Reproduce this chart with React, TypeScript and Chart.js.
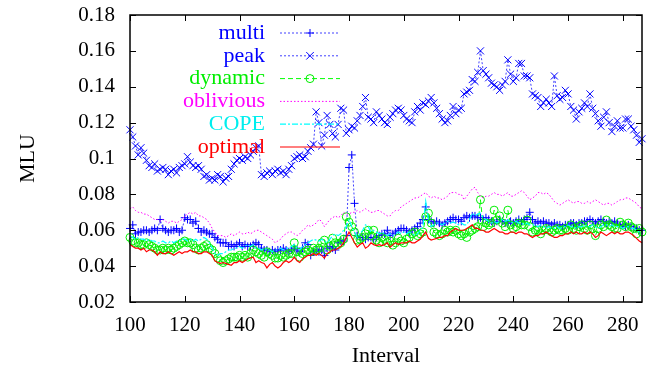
import React, { useEffect, useRef } from 'react';
import { Chart, registerables } from 'chart.js';

Chart.register(...registerables);

const FIRST_INTERVAL = 100;
const X_MIN = 100;
const X_MAX = 287;
const X_TICKS = [100, 120, 140, 160, 180, 200, 220, 240, 260, 280];
const Y_TICKS = [0.02, 0.04, 0.06, 0.08, 0.1, 0.12, 0.14, 0.16, 0.18];
const X_TITLE = 'Interval';
const Y_TITLE = 'MLU';

const MULTI = [
  0.061,0.063,0.058,0.059,0.059,0.060,0.060,0.059,0.060,0.061,
  0.060,0.066,0.061,0.060,0.059,0.060,0.060,0.061,0.059,0.060,
  0.067,0.066,0.066,0.064,0.065,0.061,0.059,0.060,0.059,0.058,
  0.058,0.056,0.055,0.053,0.053,0.053,0.051,0.052,0.051,0.052,
  0.053,0.051,0.052,0.051,0.051,0.052,0.053,0.052,0.050,0.049,
  0.049,0.048,0.049,0.048,0.049,0.049,0.050,0.049,0.048,0.049,
  0.050,0.049,0.048,0.050,0.053,0.052,0.046,0.048,0.049,0.048,
  0.049,0.046,0.050,0.051,0.050,0.049,0.053,0.054,0.054,0.057,
  0.095,0.102,0.075,0.057,0.056,0.056,0.055,0.056,0.056,0.055,
  0.056,0.057,0.058,0.058,0.060,0.057,0.058,0.059,0.060,0.061,
  0.061,0.060,0.059,0.060,0.061,0.062,0.064,0.066,0.073,0.066,
  0.065,0.064,0.065,0.064,0.063,0.064,0.065,0.066,0.067,0.066,
  0.066,0.065,0.067,0.068,0.067,0.068,0.068,0.067,0.067,0.066,
  0.067,0.066,0.065,0.064,0.065,0.066,0.065,0.064,0.064,0.065,
  0.064,0.065,0.066,0.065,0.066,0.067,0.070,0.066,0.064,0.065,
  0.064,0.065,0.064,0.064,0.063,0.064,0.063,0.063,0.062,0.063,
  0.063,0.064,0.064,0.063,0.064,0.064,0.065,0.065,0.066,0.065,
  0.064,0.065,0.066,0.065,0.064,0.065,0.064,0.065,0.064,0.063,
  0.063,0.062,0.063,0.062,0.061,0.061,0.060,0.060,
];

const PEAK = [
  0.116,0.112,0.107,0.102,0.106,0.103,0.099,0.096,0.095,0.097,
  0.093,0.094,0.095,0.094,0.091,0.093,0.094,0.092,0.095,0.096,
  0.097,0.101,0.098,0.096,0.095,0.096,0.094,0.090,0.091,0.088,
  0.089,0.088,0.091,0.090,0.087,0.089,0.090,0.094,0.097,0.099,
  0.100,0.099,0.101,0.100,0.102,0.104,0.106,0.107,0.091,0.090,
  0.092,0.093,0.091,0.093,0.094,0.092,0.093,0.091,0.094,0.096,
  0.100,0.101,0.102,0.100,0.101,0.104,0.106,0.108,0.126,0.120,
  0.107,0.113,0.124,0.119,0.114,0.112,0.119,0.128,0.127,0.114,
  0.116,0.118,0.117,0.121,0.124,0.129,0.134,0.123,0.122,0.120,
  0.126,0.124,0.122,0.120,0.119,0.123,0.125,0.127,0.128,0.127,
  0.124,0.122,0.121,0.120,0.126,0.129,0.127,0.131,0.130,0.132,
  0.134,0.131,0.128,0.125,0.122,0.120,0.121,0.124,0.129,0.125,
  0.127,0.128,0.136,0.137,0.138,0.144,0.143,0.148,0.160,0.149,
  0.147,0.145,0.142,0.141,0.140,0.138,0.141,0.143,0.155,0.147,
  0.143,0.145,0.153,0.153,0.146,0.146,0.145,0.136,0.135,0.134,
  0.129,0.131,0.133,0.131,0.129,0.146,0.135,0.133,0.134,0.138,
  0.136,0.129,0.127,0.122,0.126,0.128,0.131,0.129,0.136,0.128,
  0.125,0.121,0.118,0.123,0.126,0.120,0.115,0.118,0.121,0.117,
  0.117,0.122,0.122,0.118,0.116,0.113,0.109,0.111,
];

const DYNAMIC = [
  0.056,0.054,0.053,0.053,0.052,0.052,0.053,0.052,0.051,0.050,
  0.049,0.049,0.050,0.049,0.050,0.049,0.050,0.051,0.052,0.053,
  0.054,0.053,0.053,0.052,0.050,0.049,0.050,0.051,0.052,0.050,
  0.049,0.047,0.0445,0.043,0.042,0.043,0.044,0.045,0.045,0.045,
  0.046,0.045,0.046,0.045,0.047,0.049,0.048,0.047,0.046,0.045,
  0.048,0.047,0.046,0.0445,0.0445,0.046,0.045,0.046,0.047,0.047,
  0.053,0.048,0.045,0.047,0.048,0.049,0.048,0.050,0.049,0.050,
  0.053,0.0545,0.049,0.051,0.0556,0.053,0.052,0.053,0.055,0.0675,
  0.0645,0.062,0.059,0.0545,0.055,0.056,0.058,0.060,0.057,0.060,
  0.0545,0.053,0.056,0.055,0.053,0.054,0.0517,0.053,0.0556,0.054,
  0.053,0.055,0.056,0.058,0.059,0.057,0.058,0.059,0.0675,0.0695,
  0.064,0.059,0.058,0.057,0.058,0.060,0.059,0.060,0.059,0.060,
  0.058,0.057,0.058,0.056,0.059,0.060,0.061,0.062,0.077,0.062,
  0.064,0.063,0.064,0.0712,0.0657,0.068,0.064,0.062,0.0712,0.063,
  0.061,0.062,0.064,0.063,0.063,0.0657,0.062,0.059,0.060,0.060,
  0.058,0.060,0.061,0.060,0.059,0.060,0.061,0.060,0.060,0.061,
  0.060,0.063,0.061,0.060,0.062,0.063,0.061,0.060,0.063,0.061,
  0.057,0.061,0.063,0.062,0.0657,0.063,0.062,0.061,0.061,0.0645,
  0.063,0.062,0.064,0.062,0.061,0.058,0.061,0.059,
];

const OBLIVIOUS = [
  0.072,0.073,0.071,0.070,0.070,0.069,0.069,0.068,0.067,0.066,
  0.066,0.065,0.066,0.065,0.064,0.065,0.065,0.064,0.065,0.066,
  0.068,0.069,0.070,0.069,0.070,0.068,0.068,0.067,0.066,0.064,
  0.061,0.059,0.057,0.057,0.057,0.056,0.057,0.058,0.057,0.058,
  0.059,0.058,0.058,0.059,0.058,0.059,0.060,0.060,0.059,0.058,
  0.057,0.056,0.055,0.053,0.054,0.055,0.057,0.058,0.059,0.059,
  0.058,0.057,0.058,0.060,0.061,0.063,0.062,0.063,0.064,0.066,
  0.065,0.062,0.064,0.066,0.067,0.068,0.067,0.068,0.070,0.069,
  0.069,0.070,0.070,0.071,0.070,0.071,0.072,0.071,0.070,0.070,
  0.071,0.071,0.070,0.069,0.068,0.068,0.070,0.071,0.071,0.073,
  0.074,0.075,0.076,0.077,0.078,0.078,0.079,0.080,0.081,0.079,
  0.078,0.079,0.078,0.078,0.077,0.078,0.079,0.081,0.081,0.081,
  0.080,0.080,0.077,0.079,0.081,0.083,0.084,0.081,0.079,0.078,
  0.079,0.079,0.080,0.081,0.080,0.080,0.079,0.080,0.081,0.079,
  0.079,0.080,0.081,0.082,0.081,0.079,0.077,0.078,0.079,0.081,
  0.081,0.080,0.081,0.080,0.078,0.076,0.075,0.074,0.075,0.076,
  0.077,0.076,0.075,0.076,0.076,0.075,0.075,0.076,0.075,0.076,
  0.077,0.076,0.075,0.074,0.075,0.075,0.074,0.075,0.076,0.077,
  0.077,0.078,0.078,0.077,0.076,0.075,0.073,0.072,
];

const COPE = [
  0.057,0.056,0.055,0.056,0.055,0.055,0.054,0.055,0.054,0.054,
  0.053,0.053,0.054,0.053,0.053,0.054,0.053,0.054,0.054,0.055,
  0.055,0.054,0.055,0.054,0.055,0.054,0.055,0.056,0.055,0.053,
  0.050,0.047,0.046,0.047,0.047,0.048,0.049,0.049,0.050,0.050,
  0.051,0.050,0.051,0.052,0.051,0.052,0.050,0.050,0.049,0.050,
  0.049,0.049,0.048,0.049,0.049,0.050,0.049,0.050,0.050,0.051,
  0.052,0.050,0.049,0.051,0.052,0.053,0.054,0.055,0.0545,0.054,
  0.055,0.054,0.053,0.055,0.057,0.058,0.057,0.058,0.060,0.062,
  0.066,0.062,0.059,0.056,0.058,0.060,0.063,0.062,0.059,0.060,
  0.059,0.058,0.059,0.058,0.057,0.058,0.057,0.058,0.059,0.058,
  0.059,0.058,0.059,0.058,0.057,0.058,0.060,0.062,0.076,0.066,
  0.062,0.063,0.064,0.064,0.063,0.064,0.065,0.064,0.0645,0.064,
  0.063,0.064,0.063,0.063,0.066,0.0695,0.068,0.069,0.0695,0.067,
  0.066,0.065,0.064,0.065,0.064,0.065,0.066,0.065,0.0657,0.065,
  0.064,0.065,0.064,0.064,0.063,0.064,0.063,0.063,0.063,0.062,
  0.063,0.062,0.061,0.062,0.061,0.061,0.062,0.061,0.062,0.062,
  0.063,0.062,0.062,0.061,0.062,0.062,0.063,0.062,0.062,0.063,
  0.062,0.061,0.062,0.063,0.063,0.062,0.063,0.062,0.062,0.062,
  0.061,0.062,0.062,0.061,0.061,0.060,0.059,0.058,
];

const OPTIMAL = [
  0.052,0.051,0.050,0.050,0.049,0.050,0.048,0.049,0.049,0.048,
  0.046,0.048,0.047,0.047,0.048,0.047,0.046,0.047,0.048,0.047,
  0.048,0.048,0.049,0.048,0.048,0.047,0.047,0.048,0.048,0.047,
  0.046,0.043,0.042,0.0415,0.042,0.0415,0.041,0.0405,0.042,0.042,
  0.043,0.042,0.043,0.044,0.0445,0.045,0.042,0.043,0.042,0.0415,
  0.039,0.041,0.042,0.040,0.039,0.040,0.042,0.043,0.042,0.043,
  0.045,0.043,0.042,0.044,0.045,0.046,0.046,0.047,0.046,0.047,
  0.046,0.0445,0.047,0.048,0.049,0.049,0.050,0.051,0.053,0.056,
  0.059,0.056,0.053,0.0506,0.052,0.053,0.050,0.051,0.053,0.052,
  0.0515,0.052,0.0515,0.052,0.053,0.0505,0.052,0.053,0.052,0.053,
  0.053,0.053,0.054,0.053,0.053,0.054,0.055,0.057,0.059,0.0555,
  0.0545,0.055,0.0555,0.056,0.056,0.057,0.057,0.059,0.060,0.061,
  0.060,0.060,0.060,0.061,0.062,0.063,0.061,0.061,0.060,0.060,
  0.059,0.059,0.060,0.061,0.060,0.059,0.059,0.058,0.058,0.059,
  0.059,0.058,0.059,0.059,0.058,0.058,0.057,0.056,0.057,0.057,
  0.058,0.058,0.059,0.058,0.057,0.056,0.056,0.057,0.057,0.058,
  0.058,0.059,0.058,0.059,0.058,0.058,0.059,0.058,0.059,0.058,
  0.056,0.057,0.059,0.058,0.057,0.058,0.059,0.058,0.059,0.058,
  0.058,0.059,0.059,0.058,0.057,0.0555,0.054,0.053,
];

const FONT = '"Liberation Serif", "Times New Roman", serif';

function toPoints(values: number[]) {
  return values.map((y, i) => ({ x: FIRST_INTERVAL + i, y }));
}

function drawMarker(ctx: CanvasRenderingContext2D, style: string, x: number, y: number, r: number) {
  ctx.beginPath();
  if (style === 'cross') {
    ctx.moveTo(x - r, y); ctx.lineTo(x + r, y);
    ctx.moveTo(x, y - r); ctx.lineTo(x, y + r);
  } else if (style === 'crossRot') {
    const d = r * 0.75;
    ctx.moveTo(x - d, y - d); ctx.lineTo(x + d, y + d);
    ctx.moveTo(x - d, y + d); ctx.lineTo(x + d, y - d);
  } else if (style === 'circle') {
    ctx.arc(x, y, r, 0, Math.PI * 2);
  }
  ctx.stroke();
}

const framePlugin = {
  id: 'gnuFrame',
  afterDatasetsDraw(chart: any) {
    const { ctx, chartArea: a, scales } = chart;
    const tl = 6;
    ctx.save();
    ctx.strokeStyle = '#000';
    ctx.lineWidth = 1.5;
    ctx.setLineDash([]);
    ctx.strokeRect(a.left, a.top, a.right - a.left, a.bottom - a.top);
    ctx.lineWidth = 1;
    ctx.beginPath();
    X_TICKS.forEach((v) => {
      const px = Math.round(scales.x.getPixelForValue(v)) + 0.5;
      ctx.moveTo(px, a.bottom); ctx.lineTo(px, a.bottom - tl);
      ctx.moveTo(px, a.top); ctx.lineTo(px, a.top + tl);
    });
    Y_TICKS.forEach((v) => {
      const py = Math.round(scales.y.getPixelForValue(v)) + 0.5;
      ctx.moveTo(a.left, py); ctx.lineTo(a.left + tl, py);
      ctx.moveTo(a.right, py); ctx.lineTo(a.right - tl, py);
    });
    ctx.stroke();

    // key (legend), gnuplot style: right-aligned text then sample
    const textRight = a.left + 135;
    const sx0 = a.left + 150;
    const sx1 = a.left + 210;
    const y0 = a.top + 18;
    const step = 22.8;
    chart.data.datasets.forEach((ds: any, i: number) => {
      const y = y0 + i * step;
      ctx.font = `22px ${FONT}`;
      ctx.textAlign = 'right';
      ctx.textBaseline = 'middle';
      ctx.fillStyle = ds.keyColor;
      ctx.fillText(ds.label, textRight, y);
      ctx.strokeStyle = ds.borderColor;
      ctx.lineWidth = ds.borderWidth;
      ctx.setLineDash(ds.borderDash || []);
      ctx.beginPath();
      ctx.moveTo(sx0, y); ctx.lineTo(sx1, y);
      ctx.stroke();
      if (ds.pointRadius > 0) {
        ctx.setLineDash([]);
        ctx.lineWidth = 1;
        ctx.strokeStyle = ds.pointBorderColor;
        drawMarker(ctx, ds.pointStyle, (sx0 + sx1) / 2, y, ds.pointRadius);
      }
    });
    ctx.restore();
  },
};

export default function App() {
  const ref = useRef<HTMLCanvasElement>(null);

  useEffect(() => {
    if (!ref.current) return;
    const mk = (label: string, values: number[], color: string, keyColor: string, dash: number[], width: number, pointStyle: string | false, radius: number, order: number) => ({
      label,
      data: toPoints(values),
      borderColor: color,
      keyColor,
      borderWidth: width,
      borderDash: dash,
      pointStyle: pointStyle || 'circle',
      pointRadius: pointStyle ? radius : 0,
      pointBorderColor: keyColor,
      pointBackgroundColor: 'rgba(0,0,0,0)',
      pointBorderWidth: 1,
      tension: 0,
      fill: false,
      clip: false,
      order,
    });

    const chart = new Chart(ref.current, {
      type: 'line',
      data: {
        datasets: [
          mk('multi', MULTI, 'rgba(0,0,255,0.75)', '#0000ff', [2, 2], 1, 'cross', 4, 6),
          mk('peak', PEAK, 'rgba(0,0,255,0.75)', '#0000ff', [2, 2], 1, 'crossRot', 5, 5),
          mk('dynamic', DYNAMIC, '#00ff00', '#00ee00', [5, 3], 1, 'circle', 4, 4),
          mk('oblivious', OBLIVIOUS, '#ff00ff', '#ff00ff', [1.5, 2], 1, false, 0, 3),
          mk('COPE', COPE, '#00ffff', '#00eeee', [6, 2, 2, 2], 1.2, false, 0, 2),
          mk('optimal', OPTIMAL, '#ff0000', '#ff0000', [], 1.2, false, 0, 1),
        ] as any,
      },
      options: {
        responsive: false,
        animation: false,
        events: [],
        layout: { padding: { left: 0, right: 10, top: 15, bottom: 0 } },
        plugins: { legend: { display: false }, tooltip: { enabled: false } },
        scales: {
          x: {
            type: 'linear',
            min: X_MIN,
            max: X_MAX,
            grid: { display: false, drawTicks: false },
            border: { display: false },
            ticks: {
              color: '#000',
              font: { family: FONT, size: 21 },
              padding: 11,
              maxRotation: 0,
              autoSkip: false,
              callback: (v: any) => String(v),
            },
            afterBuildTicks: (s: any) => { s.ticks = X_TICKS.map((value) => ({ value })); },
            afterFit: (s: any) => { s.height = 67; s.paddingLeft = 0; s.paddingRight = 0; },
            title: { display: true, text: X_TITLE, color: '#000', font: { family: FONT, size: 22 }, padding: { top: 0, bottom: 0 } },
          },
          y: {
            type: 'linear',
            min: Y_TICKS[0],
            max: Y_TICKS[Y_TICKS.length - 1],
            grid: { display: false, drawTicks: false },
            border: { display: false },
            ticks: {
              color: '#000',
              font: { family: FONT, size: 21 },
              padding: 15,
              callback: (v: any) => String(+Number(v).toFixed(2)),
            },
            afterBuildTicks: (s: any) => { s.ticks = Y_TICKS.map((value) => ({ value })); },
            afterFit: (s: any) => { s.width = 130; s.paddingTop = 0; s.paddingBottom = 0; },
            title: { display: true, text: Y_TITLE, color: '#000', font: { family: FONT, size: 22 }, padding: { top: 15, bottom: 0 } },
          },
        },
      } as any,
      plugins: [framePlugin],
    });
    return () => chart.destroy();
  }, []);

  return (
    <div style={{ position: 'absolute', left: 0, top: 0, width: 652, height: 369, background: '#fff' }}>
      <canvas ref={ref} width={652} height={369} style={{ display: 'block' }} />
    </div>
  );
}
